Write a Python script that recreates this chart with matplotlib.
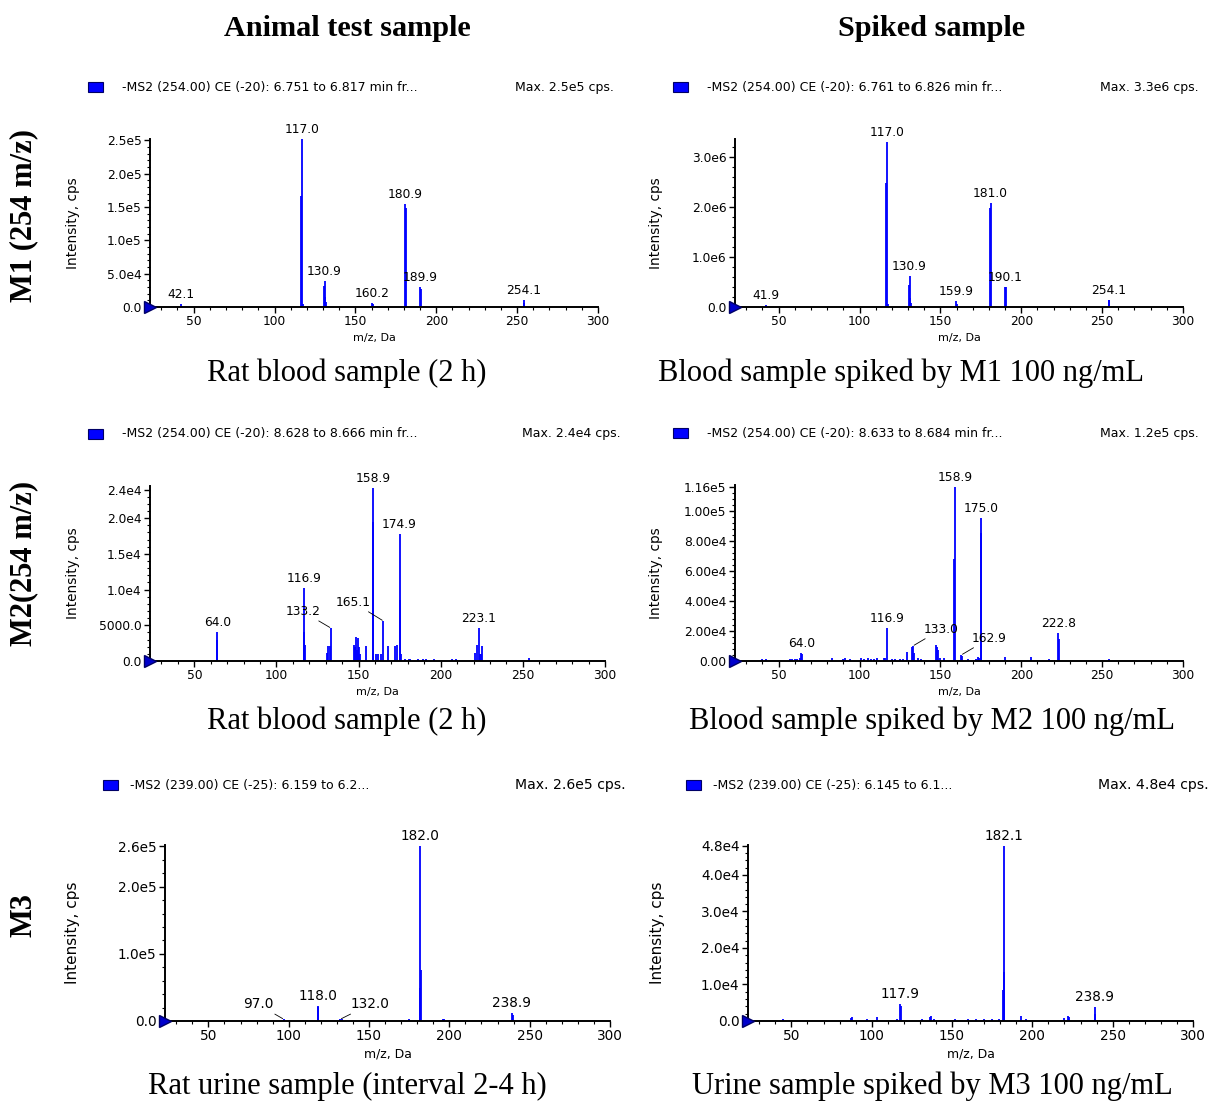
import matplotlib
matplotlib.use("Agg")
import matplotlib.pyplot as plt
from matplotlib.patches import Rectangle
from matplotlib.ticker import MultipleLocator, AutoMinorLocator

W, H = 1212, 1102
plt.rcParams['font.family'] = 'DejaVu Sans'

# ------------------------------ data ------------------------------ #

col_titles = ["Animal test sample", "Spiked sample"]
row_titles = ["M1 (254 m/z)", "M2(254 m/z)", "M3"]

headers = ["-MS2 (254.00) CE (-20): 6.751 to 6.817 min fr...",
           "-MS2 (254.00) CE (-20): 6.761 to 6.826 min fr...",
           "-MS2 (254.00) CE (-20): 8.628 to 8.666 min fr...",
           "-MS2 (254.00) CE (-20): 8.633 to 8.684 min fr...",
           "-MS2 (239.00) CE (-25): 6.159 to 6.2...",
           "-MS2 (239.00) CE (-25): 6.145 to 6.1..."]
max_txt = ["Max. 2.5e5 cps.", "Max. 3.3e6 cps.", "Max. 2.4e4 cps.",
           "Max. 1.2e5 cps.", "Max. 2.6e5 cps.", "Max. 4.8e4 cps."]
captions = ["Rat blood sample (2 h)", "Blood sample spiked by M1 100 ng/mL",
            "Rat blood sample (2 h)", "Blood sample spiked by M2 100 ng/mL",
            "Rat urine sample (interval 2-4 h)", "Urine sample spiked by M3 100 ng/mL"]

mz1 = [42.1, 42.5, 116.6, 117.0, 117.6, 130.6, 130.9, 131.3, 131.8, 160.2, 160.6,
       180.9, 181.3, 189.9, 190.3, 254.1, 254.5]
in1 = [4e3, 2e3, 1.66e5, 2.52e5, 5e3, 3.1e4, 3.9e4, 1.5e4, 7e3, 6.5e3, 4e3,
       1.55e5, 1.49e5, 3.0e4, 2.75e4, 1.0e4, 6e3]

mz2 = [41.9, 42.3, 116.6, 117.0, 117.6, 130.6, 130.9, 131.4, 131.9, 159.9, 160.3,
       180.6, 181.0, 190.1, 190.4, 254.1, 254.4]
in2 = [4e4, 2e4, 2.48e6, 3.29e6, 6e4, 4.3e5, 6.1e5, 1.7e5, 8e4, 1.2e5, 5e4,
       1.97e6, 2.07e6, 4.0e5, 3.9e5, 1.4e5, 1.3e5]

mz3 = [63.6, 64.0, 116.5, 116.9, 117.4, 131.0, 131.6, 132.3, 133.2, 147.0, 147.6,
       148.2, 149.0, 149.6, 150.4, 151.0, 154.5, 158.5, 158.9, 160.5, 162.0, 163.5,
       165.1, 168.0, 172.0, 173.5, 174.9, 175.3, 176.0, 178.5, 180.5, 181.5, 186.0,
       189.0, 191.0, 196.0, 207.0, 209.0, 221.0, 222.0, 223.1, 223.6, 224.4, 225.2, 254.0]
in3 = [3000, 4000, 4000, 10200, 2300, 1100, 2100, 2100, 4600, 2300, 2000,
       3400, 1600, 3200, 2000, 1000, 2100, 19500, 24200, 1000, 1000, 1000,
       5600, 2100, 2100, 2300, 17800, 8600, 1000, 300, 300, 300, 300,
       300, 300, 300, 300, 300, 1100, 2300, 4600, 1000, 1000, 2100, 400]

mz4 = [40, 42, 57, 58.5, 60, 61.5, 63, 64.0, 64.5, 83, 90, 91, 94, 101, 103, 105,
       107, 109, 111, 115, 116, 116.9, 120, 122, 125, 127, 129.5, 132.4, 133.0, 133.5,
       136, 138, 147.0, 147.8, 148.5, 149.5, 152, 158.5, 158.9, 162.9, 163.4, 167,
       172, 173, 174, 175.0, 175.4, 190, 206, 217, 222.8, 223.2, 254]
in4 = [1000, 1000, 1500, 1500, 1500, 1500, 2000, 5000, 4500, 2000, 1500, 2000, 1500,
       2000, 1500, 2000, 1000, 1500, 2000, 2000, 2000, 22000, 1000, 1500, 1000, 1500,
       6000, 9500, 10000, 5000, 2000, 1000, 10400, 9500, 7500, 2000, 2000, 67500,
       116000, 4000, 3000, 1000, 1500, 2500, 2000, 95000, 85000, 2500, 2500, 1000,
       18500, 14500, 1200]

mz5 = [97.0, 118.0, 118.5, 132.0, 133.0, 151.0, 175.0, 181.6, 182.0, 182.5,
       196.0, 196.5, 238.9, 239.4]
in5 = [2500, 22000, 21000, 2500, 2500, 2000, 3000, 49000, 261000, 76000,
       3000, 3000, 12000, 9000]

mz6 = [45, 87, 88, 97, 103, 116, 117.9, 118.4, 131, 136, 137, 139, 152, 160, 165,
       170, 175, 179, 181.6, 182.1, 182.5, 193, 196, 220, 222, 223, 238.9, 239.3]
in6 = [500, 800, 1000, 600, 1000, 600, 4700, 4000, 500, 1000, 1500, 600, 500, 500,
       500, 600, 600, 600, 8500, 48000, 13300, 1500, 600, 800, 1500, 1000, 3800, 2000]

lab1 = ["42.1", "117.0", "130.9", "160.2", "180.9", "189.9", "254.1"]
lab2 = ["41.9", "117.0", "130.9", "159.9", "181.0", "190.1", "254.1"]
lab3 = ["64.0", "116.9", "133.2", "158.9", "165.1", "174.9", "223.1"]
lab4 = ["64.0", "116.9", "133.0", "158.9", "162.9", "175.0", "222.8"]
lab5 = ["97.0", "118.0", "132.0", "182.0", "238.9"]
lab6 = ["117.9", "182.1", "238.9"]

yt1 = [0, 5e4, 1e5, 1.5e5, 2e5, 2.5e5]
ytl1 = ["0.0", "5.0e4", "1.0e5", "1.5e5", "2.0e5", "2.5e5"]
yt2 = [0, 1e6, 2e6, 3e6]
ytl2 = ["0.0", "1.0e6", "2.0e6", "3.0e6"]
yt3 = [0, 5000, 1e4, 1.5e4, 2e4, 2.4e4]
ytl3 = ["0.0", "5000.0", "1.0e4", "1.5e4", "2.0e4", "2.4e4"]
yt4 = [0, 2e4, 4e4, 6e4, 8e4, 1e5, 1.16e5]
ytl4 = ["0.00", "2.00e4", "4.00e4", "6.00e4", "8.00e4", "1.00e5", "1.16e5"]
yt5 = [0, 1e5, 2e5, 2.6e5]
ytl5 = ["0.0", "1.0e5", "2.0e5", "2.6e5"]
yt6 = [0, 1e4, 2e4, 3e4, 4e4, 4.8e4]
ytl6 = ["0.0", "1.0e4", "2.0e4", "3.0e4", "4.0e4", "4.8e4"]

ymax = [2.52e5, 3.35e6, 2.45e4, 1.17e5, 2.62e5, 4.82e4]

# ------------------------------ layout ------------------------------ #

# axes boxes in pixels: left, right, top, bottom
boxes = [(150, 598, 139, 307), (735, 1183, 139, 307),
         (150, 605, 486, 661), (735, 1183, 485, 661),
         (165, 610, 845, 1021), (748, 1193, 845, 1021)]
ylab_x = [80, 663, 80, 663, 80, 665]
# leader-line labels: text offset in pixels
leaders = {2: {"133.2": (-28, 10), "165.1": (-30, 12)},
           3: {"133.0": (28, 10), "162.9": (28, 10)},
           4: {"97.0": (-26, 8), "132.0": (30, 8)}}
cap_dy = [66, 66, 60, 60, 65, 65]
cap_x = [347, 901, 347, 932, 347, 932]

fig = plt.figure(figsize=(W / 100, H / 100), dpi=100)


def fx(px):
    return px / W


def fy(py):
    return 1 - py / H


data = [(mz1, in1, lab1, yt1, ytl1), (mz2, in2, lab2, yt2, ytl2),
        (mz3, in3, lab3, yt3, ytl3), (mz4, in4, lab4, yt4, ytl4),
        (mz5, in5, lab5, yt5, ytl5), (mz6, in6, lab6, yt6, ytl6)]

for i, (mz, inten, labs, yt, ytl) in enumerate(data):
    l, r, t, b = boxes[i]
    fs = 1.0 if i < 4 else 1.12   # bottom row was pasted a bit larger
    ax = fig.add_axes([fx(l), fy(b), (r - l) / W, (b - t) / H])
    ax.vlines(mz, 0, inten, color="#0000ff", lw=1.3)
    ax.set_xlim(23, 300)
    ax.set_ylim(0, ymax[i])
    ax.spines[["top", "right"]].set_visible(False)
    for s in ["left", "bottom"]:
        ax.spines[s].set_linewidth(1.4)
    ax.xaxis.set_major_locator(MultipleLocator(50))
    ax.xaxis.set_minor_locator(MultipleLocator(10))
    ax.set_yticks(yt)
    ax.set_yticklabels(ytl)
    ax.yaxis.set_minor_locator(AutoMinorLocator(5))
    ax.tick_params(labelsize=8.8 * fs, length=4, width=1, pad=2)
    ax.tick_params(which="minor", length=2, width=0.8)
    ax.set_xlabel("m/z, Da", fontsize=8 * fs, labelpad=3)
    ax.set_ylabel("Intensity, cps", fontsize=9.8 * fs)
    ax.yaxis.set_label_coords((ylab_x[i] - l) / (r - l), 0.5)
    ax.plot([23], [0], marker=">", ms=8, color="#0000cc", mec="#000066",
            clip_on=False, zorder=5)

    # peak labels
    for lab in labs:
        m = float(lab)
        near = [v for x, v in zip(mz, inten) if abs(x - m) < 0.7]
        top = max(near)
        if lab in leaders.get(i, {}):
            dx, dy = leaders[i][lab]
            ax.annotate(lab, (m, top), xytext=(dx, dy), textcoords="offset pixels",
                        ha="center", va="bottom", fontsize=8.8 * fs,
                        arrowprops=dict(arrowstyle="-", lw=0.6, color="black",
                                        shrinkA=0, shrinkB=1))
        else:
            ax.annotate(lab, (m, top), xytext=(0, 3), textcoords="offset pixels",
                        ha="center", va="bottom", fontsize=8.8 * fs)

    # header line over each spectrum
    hy = t - 52 if i < 4 else t - 60
    sx = l - 28 if i < 4 else l - 35
    fig.patches.append(Rectangle((fx(l - 62), fy(hy + 5)), 15 / W, 10 / H,
                                 transform=fig.transFigure, facecolor="#0000ff",
                                 edgecolor="#000066", lw=0.8))
    fig.text(fx(sx), fy(hy), headers[i], fontsize=9.0, va="center", ha="left")
    fig.text(fx(r + 16), fy(hy), max_txt[i], fontsize=9.0 * fs, va="center", ha="right")

    # caption under each spectrum
    fig.text(fx(cap_x[i]), fy(b + cap_dy[i]), captions[i], fontsize=22, va="center",
             ha="center", family="Liberation Serif")

for j, tt in enumerate(col_titles):
    fig.text(fx([347, 932][j]), fy(28), tt, fontsize=21.8, fontweight="bold",
             ha="center", va="center", family="Liberation Serif")

for k, rt in enumerate(row_titles):
    fig.text(fx(24), fy([215, 563, 915][k]), rt, fontsize=22, fontweight="bold",
             rotation=90, ha="center", va="center", family="Liberation Serif")

fig.savefig("out.png", dpi=100)
